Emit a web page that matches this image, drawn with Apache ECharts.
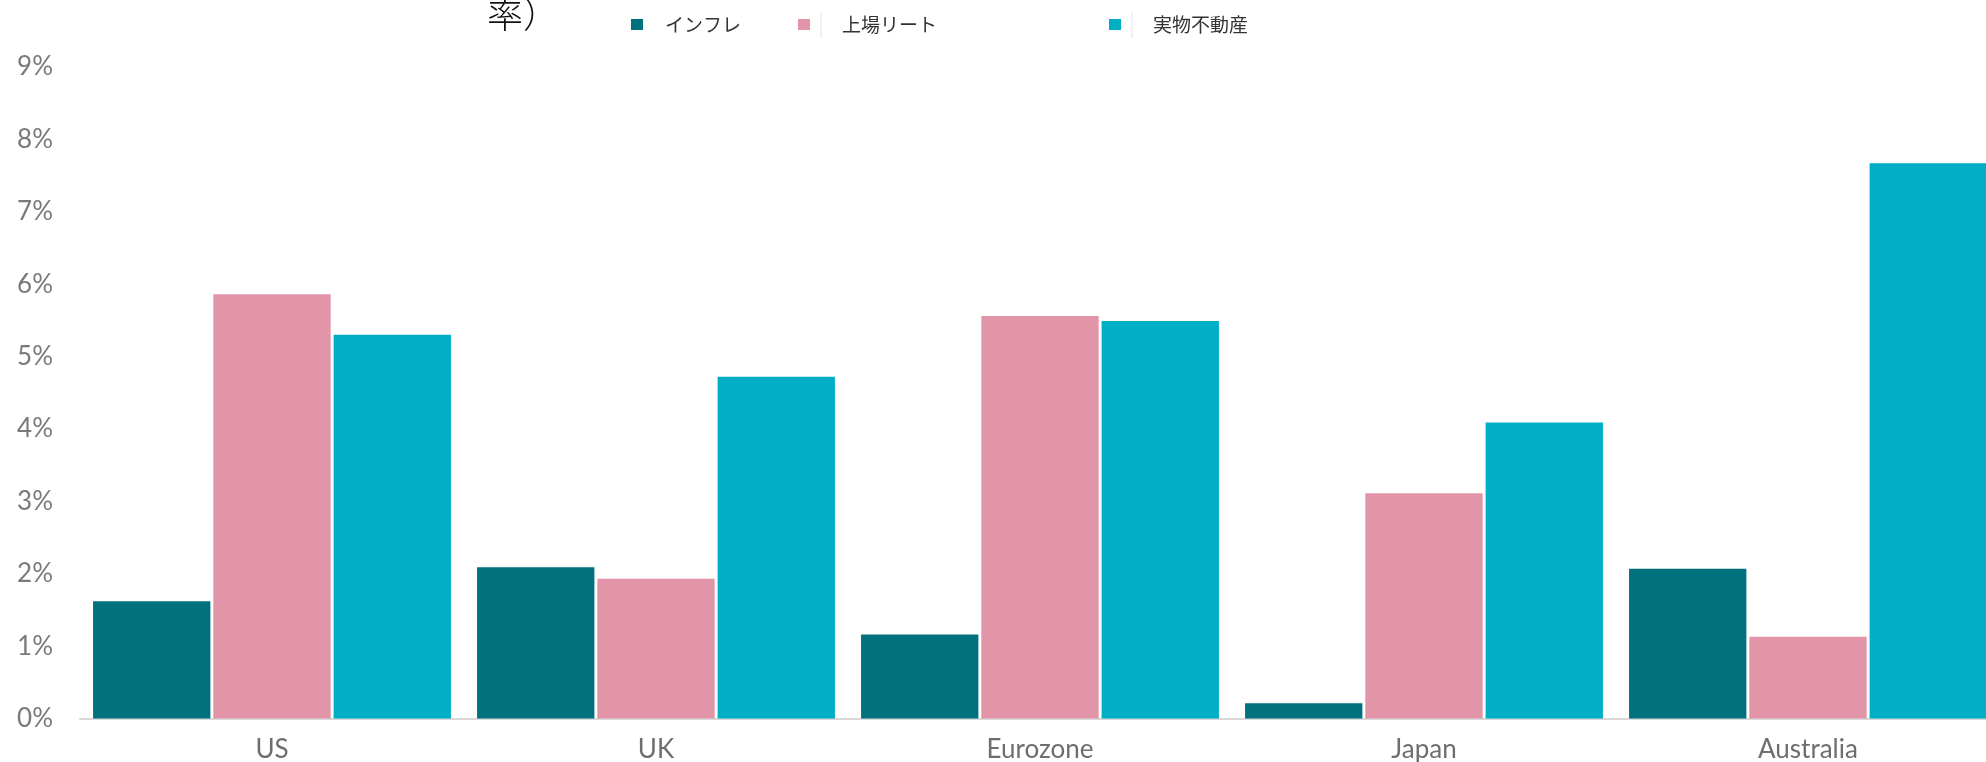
<!DOCTYPE html>
<html>
<head>
<meta charset="utf-8">
<script src="https://cdn.jsdelivr.net/npm/echarts@6/dist/echarts.min.js"></script>
<style>html,body{margin:0;padding:0;background:#fff;}#c{width:1986px;height:762px;}</style>
</head>
<body>
<div id="c"></div>
<script>
const categories = ['US', 'UK', 'Eurozone', 'Japan', 'Australia'];
const seriesNames = ['インフレ', '上場リート', '実物不動産'];
const inflation = [1.62, 2.09, 1.16, 0.21, 2.07];
const listedReit = [5.86, 1.93, 5.56, 3.11, 1.13];
const physicalRE = [5.30, 4.72, 5.49, 4.09, 7.67];
const yTicks = [0, 1, 2, 3, 4, 5, 6, 7, 8, 9];
const titleText = '率）';

const colors = ['#00717D', '#E295A9', '#00AEC6'];
const chart = echarts.init(document.getElementById('c'));

function legendAt(name, left, textPad) {
  return {
    data: [name], left: left, top: 15, padding: 0,
    orient: 'horizontal', itemWidth: 12, itemHeight: 11,
    icon: 'rect', selectedMode: false,
    textStyle: { fontFamily: 'Noto Sans CJK JP', fontSize: 19, color: '#333', padding: [0, 0, 0, textPad] }
  };
}

chart.setOption({
  animation: false,
  backgroundColor: '#fff',
  title: {
    text: titleText, left: 487, top: -4, padding: 0,
    textStyle: { fontFamily: 'Noto Sans CJK JP', fontSize: 36, fontWeight: 300, color: '#111' }
  },
  legend: [
    legendAt(seriesNames[0], 631, 17),
    legendAt(seriesNames[1], 798, 27),
    legendAt(seriesNames[2], 1109, 27)
  ],
  graphic: [
    { type: 'line', shape: { x1: 821, y1: 12, x2: 821, y2: 38 }, style: { stroke: '#e4e4e4', lineWidth: 1 } },
    { type: 'line', shape: { x1: 1132, y1: 12, x2: 1132, y2: 38 }, style: { stroke: '#e4e4e4', lineWidth: 1 } }
  ],
  grid: { left: 80, width: 1920, top: 67, bottom: 43.5, containLabel: false, outerBoundsMode: 'none' },
  xAxis: {
    type: 'category', data: categories,
    axisLine: { show: true, lineStyle: { color: '#d9d9d9', width: 2 } },
    axisTick: { show: false },
    axisLabel: { fontFamily: 'Lato', fontSize: 26, color: '#6e6e6e', margin: 18 }
  },
  yAxis: {
    type: 'value', min: yTicks[0], max: yTicks[yTicks.length - 1], interval: 1,
    axisLine: { show: false }, axisTick: { show: false },
    splitLine: { show: false },
    axisLabel: { fontFamily: 'Lato', fontSize: 26, color: '#7a7a7a', margin: 27, formatter: '{value}%' }
  },
  series: [
    { name: seriesNames[0], type: 'bar', data: inflation, itemStyle: { color: colors[0] }, barGap: '2.5%', barCategoryGap: '6.8%' },
    { name: seriesNames[1], type: 'bar', data: listedReit, itemStyle: { color: colors[1] } },
    { name: seriesNames[2], type: 'bar', data: physicalRE, itemStyle: { color: colors[2] } }
  ]
});
</script>
</body>
</html>
